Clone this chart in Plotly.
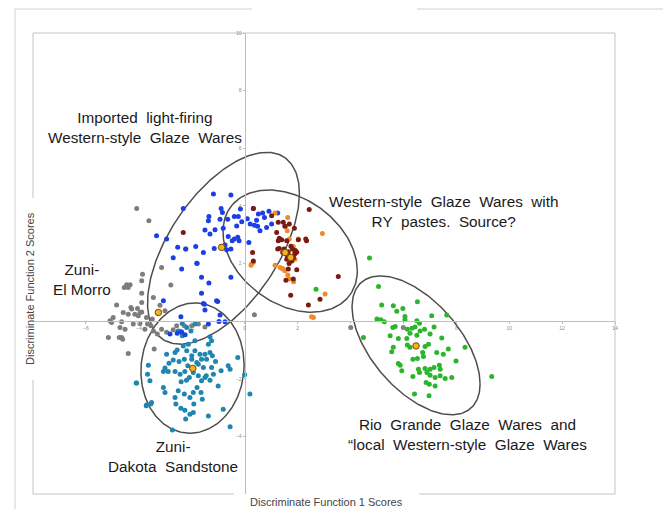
import numpy as np
import plotly.graph_objects as go

# ---------------- data (discriminant function scores) ----------------
gray_x = [-4.08,-3.62,-3.14,-2.79,-3.86,-3.89,-4.55,-4.40,-3.89,-3.45,-3.89,-4.30,-4.05,-4.84,-4.59,-4.40,-4.15,-3.89,-4.02,-3.71,
          -3.49,-3.01,-5.09,-5.03,-4.65,-4.21,-3.96,-3.67,-3.77,-3.45,-3.14,-2.95,-2.57,-2.28,-2.00,-1.75,-4.71,-4.52,-5.15,-4.65,
          -4.74,-4.61,-4.40,-3.42,0.37,-2.22,-1.79,-4.46,-4.33,-4.97,-4.27,-3.95,-3.54,-3.30,-2.70,-2.45,-3.20,4.01,6.00,-1.50]
gray_y = [3.91,3.48,1.86,1.25,1.63,1.40,1.17,1.17,0.97,0.82,0.65,0.47,0.44,0.56,0.30,0.24,0.24,0.32,0.19,0.13,
          0.07,0.36,0.01,-0.05,-0.02,-0.10,-0.08,-0.10,-0.28,-0.34,-0.28,-0.39,-0.16,-0.16,-0.16,-0.10,-0.22,-0.28,-0.57,-0.57,
          -0.57,-0.63,-1.12,-0.97,0.22,2.50,2.00,1.26,1.26,0.13,0.42,0.30,-0.16,-0.45,-0.30,-0.35,0.55,-0.22,-0.22,-0.20]

blue_x = [-1.18,-0.52,-2.32,-0.89,-0.84,-1.35,-1.37,-0.93,-0.64,-0.39,-0.24,-0.16,-0.11,0.33,0.52,0.68,0.92,1.25,0.21,0.37,
          0.49,0.58,0.83,1.02,-3.33,-2.95,-1.50,-1.31,-1.12,-0.81,-0.62,-0.39,-0.26,-0.21,-0.74,-0.68,-0.52,-0.47,-2.53,-2.23,
          -1.85,-1.56,-1.15,-2.70,-2.38,-1.81,0.16,-1.63,-1.35,-0.52,-1.63,-3.07,-1.56,-1.02,-1.50,-0.93,-0.74,-2.41,-0.97,-2.82,
          -2.55,-2.38,-2.25,-1.37,-1.06,-1.52,0.10,0.45,0.75,-0.30]
blue_y = [4.41,4.38,3.91,3.91,3.77,3.63,3.48,3.54,3.54,3.63,3.63,3.89,3.45,3.91,3.72,3.75,3.81,3.75,3.37,3.33,
          3.29,3.14,3.25,3.37,2.96,2.85,3.16,3.02,3.17,3.22,2.94,2.85,2.91,2.79,2.64,2.48,2.50,2.79,2.56,2.50,
          2.59,2.38,2.52,2.20,1.81,2.01,2.73,1.52,1.32,1.52,0.97,0.71,0.61,0.68,0.39,0.21,-0.02,0.15,-0.01,-0.45,
          -0.42,-0.38,-0.47,-0.10,0.71,0.59,3.55,3.50,3.60,3.30]

teal_x = [-2.36,-2.19,-2.51,-2.36,-2.03,-1.88,-1.31,-1.25,-1.37,-1.88,-2.13,-2.32,-2.19,-1.88,-1.69,-1.50,-1.31,-1.22,-1.44,-1.63,
          -1.81,-2.00,-2.28,-2.48,-2.70,-2.86,-3.01,-3.07,-2.89,-2.63,-2.44,-2.26,-2.09,-1.94,-1.75,-1.63,-1.50,-1.31,-1.18,-1.25,
          -1.56,-1.00,-0.89,-0.62,-0.55,-0.26,0.00,0.20,-3.64,-3.67,-4.08,-3.58,-3.07,-3.01,-2.63,-2.51,-2.28,-2.07,-1.94,-1.65,
          -1.60,-1.92,-2.60,-2.41,-2.26,-2.07,-1.94,-2.23,-3.71,-3.52,-1.37,-0.81,-0.55,-2.73,-2.95,-2.63,-4.10,-3.72,-3.55,-2.15,
          -1.75,-2.40,-1.45,-2.00,-1.80,-2.55,-1.10,-2.20]
teal_y = [-0.08,-0.22,-0.34,-0.51,-0.34,-0.10,-0.54,-0.68,-0.80,-0.68,-0.80,-0.86,-1.03,-1.03,-1.15,-1.15,-1.09,-1.20,-1.32,-1.32,
          -1.44,-1.32,-1.32,-1.40,-1.35,-1.46,-1.63,-1.75,-1.75,-1.75,-1.84,-1.75,-1.96,-1.78,-1.90,-2.07,-1.96,-2.05,-1.84,-1.61,
          -1.61,-2.25,-1.72,-1.55,-1.67,-1.26,-1.86,-2.53,-1.53,-1.84,-2.15,-2.07,-2.30,-2.48,-2.65,-2.42,-2.53,-2.65,-2.48,-2.48,
          -2.71,-2.88,-2.88,-3.02,-3.09,-3.23,-3.17,-3.40,-2.91,-2.82,-3.29,-3.06,-3.67,-3.78,-1.15,-1.09,-2.15,-2.94,-2.88,-1.55,
          -1.50,-2.10,-1.90,-1.20,-2.30,-1.00,-1.40,-2.05]

dred_x = [-2.32,0.33,1.02,1.27,1.46,1.69,1.21,1.40,1.59,1.27,1.31,1.49,1.65,1.81,1.90,1.71,1.78,1.59,2.03,2.34,
          2.44,0.30,0.33,1.65,1.84,1.56,1.74,2.41,2.85,3.54,1.97,1.44,1.52,1.88,1.25,1.31,2.31,1.97,1.60,1.75,
          1.85,1.68,1.92]
dred_y = [3.08,3.91,3.66,3.43,3.43,3.37,3.08,2.82,2.79,2.79,2.52,2.50,2.41,2.50,2.33,2.25,2.09,2.15,2.82,2.79,
          3.87,2.38,2.09,1.81,1.46,1.42,0.90,0.56,0.76,1.55,2.39,2.38,3.29,3.22,2.50,2.88,2.85,1.78,2.30,2.60,
          2.20,2.00,2.45]

orange_x = [1.15,1.63,1.69,2.03,2.94,1.84,1.88,1.15,1.34,1.46,1.63,1.68,1.85,3.04,2.60,0.33,0.24,1.90,1.56,1.61,
            1.42,1.52,0.26,2.53,1.75]
orange_y = [3.75,3.60,2.85,2.85,3.04,2.59,2.41,1.94,1.86,1.81,1.60,1.46,1.37,0.94,0.13,2.04,1.94,2.15,3.29,3.14,
            1.83,1.75,1.98,0.15,2.20]

green_x = [4.72,5.06,5.18,5.62,5.98,5.75,6.53,5.00,5.15,5.28,6.06,6.06,6.51,6.61,7.07,7.64,5.60,5.69,6.15,6.32,
           6.25,6.44,6.80,7.16,4.49,5.50,5.81,6.13,6.51,7.01,7.45,5.62,6.15,6.25,6.82,5.56,6.73,7.26,7.51,7.70,
           8.33,6.36,6.53,6.76,5.81,5.88,5.94,6.36,6.57,6.61,6.82,6.89,7.01,7.01,7.16,7.36,7.39,7.20,7.39,7.58,
           7.83,7.99,6.86,6.98,7.20,6.42,6.97,9.34,6.63,2.70,6.95]
green_y = [2.19,1.20,0.56,0.53,0.44,0.34,0.67,0.07,0.05,-0.02,0.16,0.05,0.01,-0.07,0.19,0.21,-0.22,-0.19,-0.28,-0.25,
           -0.42,-0.20,-0.28,-0.20,-0.57,-0.51,-0.60,-0.60,-0.49,-0.45,-0.59,-0.91,-0.83,-0.91,-0.88,-1.06,-1.09,-1.09,-1.15,-0.97,
           -0.91,-1.32,-1.30,-1.23,-1.47,-1.53,-1.72,-1.92,-1.67,-1.78,-1.64,-1.78,-1.67,-1.88,-1.61,-1.53,-1.67,-1.96,-1.90,-1.99,
           -1.96,-1.38,-2.13,-2.19,-2.25,-2.53,-2.59,-1.92,-0.34,1.11,-0.80]

# group centroids
cent_x = [-0.87, 1.53, 1.74, -3.26, -1.96, 6.48]
cent_y = [2.56, 2.38, 2.21, 0.30, -1.64, -0.86]

# confidence ellipses: centre, half-extent in x and y, correlation
ell_cx = [-0.80, 1.72, -1.97, 6.48]
ell_cy = [2.53, 2.43, -1.63, -0.84]
ell_sx = [2.87, 2.54, 1.95, 2.42]
ell_sy = [3.33, 2.12, 2.26, 2.41]
ell_r = [0.57, -0.32, 0.05, -0.555]

x_ticks = [-6, -4, -2, 0, 2, 4, 6, 8, 10, 12, 14]
y_ticks = [-4, -2, 2, 4, 6, 8, 10]

# ---------------- figure ----------------
FONT = "Liberation Sans, Arial, sans-serif"
fig = go.Figure()

t = np.linspace(0, 2 * np.pi, 240)
for cx, cy, sx, sy, r in zip(ell_cx, ell_cy, ell_sx, ell_sy, ell_r):
    ex = cx + sx * np.cos(t)
    ey = cy + sy * (r * np.cos(t) + np.sqrt(1 - r * r) * np.sin(t))
    fig.add_trace(go.Scatter(x=ex, y=ey, mode="lines",
                             line=dict(color="#4e4e4e", width=1.5),
                             hoverinfo="skip", showlegend=False))

groups = [
    (gray_x, gray_y, "#7d7d7d"),
    (teal_x, teal_y, "#1f86b0"),
    (blue_x, blue_y, "#1b3fe4"),
    (green_x, green_y, "#2cb52c"),
    (orange_x, orange_y, "#f08a2a"),
    (dred_x, dred_y, "#7a1a12"),
]
for gx, gy, col in groups:
    fig.add_trace(go.Scatter(x=gx, y=gy, mode="markers",
                             marker=dict(size=5, color=col, line=dict(width=0)),
                             showlegend=False))

fig.add_trace(go.Scatter(x=cent_x, y=cent_y, mode="markers",
                         marker=dict(size=6.5, color="#f3b21f",
                                     line=dict(color="#7a4a00", width=1)),
                         showlegend=False))

# the page body adds an 8px offset; geometry below is in window pixels
OFF = 8
W, H = 671 - OFF, 509 - OFF
L, R, T, B = 33 - OFF, 615 - OFF, 33 - OFF, 494 - OFF
def px(xp):
    return (xp - OFF - L) / (R - L)
def py(yp):
    return (B - (yp - OFF)) / (B - T)

box_col = "#c4c4c4"
frame_col = "#d2d2d2"
shapes = []
def seg(x0, y0, x1, y1, col):
    shapes.append(dict(type="line", xref="paper", yref="paper",
                       x0=px(x0), y0=py(y0), x1=px(x1), y1=py(y1),
                       line=dict(color=col, width=1), layer="below"))
# inner plot box with gaps behind axis titles
seg(33, 33, 615, 33, box_col)
seg(615, 33, 615, 494, box_col)
seg(33, 494, 234, 494, box_col)
seg(419, 494, 615, 494, box_col)
seg(33, 33, 33, 198, box_col)
seg(33, 380, 33, 494, box_col)
# outer frame
seg(15, 9, 15, 512, frame_col)
seg(15, 9, 252, 9, frame_col)
seg(417, 9, 665, 9, frame_col)
seg(665, 9, 665, 212, frame_col)
seg(665, 347, 665, 512, frame_col)

ann_font = dict(family=FONT, size=15.3, color="#1a1a1a")
NB = "\u00a0"
def sp(s):
    return s.replace(" ", NB + NB)

annotations = [
    dict(x=-3.77, y=6.72, text=sp("Imported light-firing") + "<br>" + sp("Western-style Glaze Wares")),
    dict(x=7.55, y=3.82, text=sp("Western-style Glaze Wares with") + "<br>" + sp("RY pastes.") + NB + NB + "Source?"),
    dict(x=-6.15, y=1.44, text="Zuni-<br>El" + NB + "Morro"),
    dict(x=-2.71, y=-4.69, text="Zuni-<br>" + sp("Dakota Sandstone")),
    dict(x=8.41, y=-3.94, text=sp("Rio Grande Glaze Wares and") + "<br>" + sp("\u201clocal Western-style Glaze Wares")),
]
for a in annotations:
    a.update(xref="x", yref="y", showarrow=False, font=ann_font, align="center",
             xanchor="center", yanchor="middle")

title_font = dict(family=FONT, size=11, color="#444444")
annotations.append(dict(xref="paper", yref="paper", x=px(326), y=py(502),
                        text="Discriminate Function 1 Scores", showarrow=False,
                        font=title_font, xanchor="center", yanchor="middle"))
annotations.append(dict(xref="paper", yref="paper", x=px(30), y=py(289),
                        text="Discriminate Function 2 Scores", showarrow=False,
                        textangle=-90, font=title_font, xanchor="center", yanchor="middle"))

tick_font = dict(family=FONT, size=5, color="#8a8a8a")
fig.update_layout(
    width=W, height=H,
    margin=dict(l=L, r=W - R, t=T, b=H - B),
    paper_bgcolor="white", plot_bgcolor="white",
    showlegend=False,
    shapes=shapes,
    annotations=annotations,
    xaxis=dict(range=[-8, 14], anchor="free", position=6 / 16,
               showline=True, linecolor="#bdbdbd", linewidth=1,
               zeroline=False, showgrid=False,
               tickvals=x_ticks, ticks="outside", ticklen=2, tickcolor="#bdbdbd",
               tickfont=tick_font),
    yaxis=dict(range=[-6, 10], anchor="free", position=8 / 22,
               showline=True, linecolor="#bdbdbd", linewidth=1,
               zeroline=False, showgrid=False,
               tickvals=y_ticks, ticks="outside", ticklen=2, tickcolor="#bdbdbd",
               tickfont=tick_font),
)

fig.write_html("out.html")
